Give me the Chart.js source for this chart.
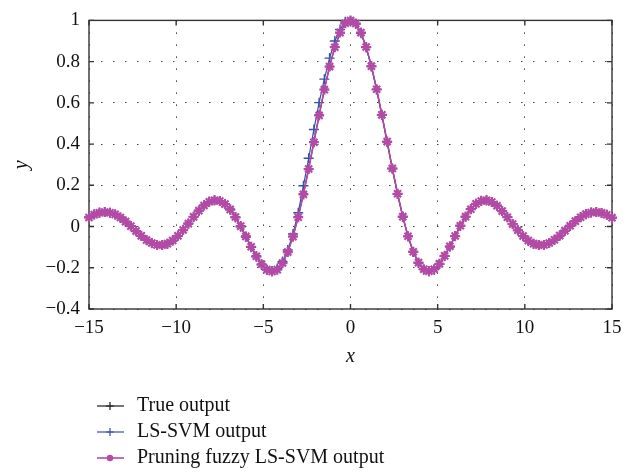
<!DOCTYPE html>
<html>
<head>
<meta charset="utf-8">
<script src="https://cdn.jsdelivr.net/npm/chart.js@4.4.1/dist/chart.umd.min.js"></script>
<style>
  html, body { margin: 0; padding: 0; background: #fff; }
  canvas { display: block; }
</style>
</head>
<body>
<canvas id="grafico" width="635" height="474"></canvas>
<script>
// Valores (x de -15 a 15)
const xs = [-15,-14.7,-14.4,-14.1,-13.8,-13.5,-13.2,-12.9,-12.6,-12.3,-12,-11.7,-11.4,-11.1,-10.8,-10.5,-10.2,-9.9,-9.6,-9.3,-9,-8.7,-8.4,-8.1,-7.8,-7.5,-7.2,-6.9,-6.6,-6.3,-6,-5.7,-5.4,-5.1,-4.8,-4.5,-4.2,-3.9,-3.6,-3.3,-3,-2.7,-2.4,-2.1,-1.8,-1.5,-1.2,-0.9,-0.6,-0.3,0,0.3,0.6,0.9,1.2,1.5,1.8,2.1,2.4,2.7,3,3.3,3.6,3.9,4.2,4.5,4.8,5.1,5.4,5.7,6,6.3,6.6,6.9,7.2,7.5,7.8,8.1,8.4,8.7,9,9.3,9.6,9.9,10.2,10.5,10.8,11.1,11.4,11.7,12,12.3,12.6,12.9,13.2,13.5,13.8,14.1,14.4,14.7,15];

const salidaReal = [0.043,0.058,0.067,0.071,0.068,0.060,0.045,0.025,0.003,-0.021,-0.045,-0.065,-0.081,-0.090,-0.091,-0.084,-0.069,-0.046,-0.018,0.013,0.046,0.076,0.102,0.120,0.128,0.125,0.110,0.084,0.047,0.003,-0.047,-0.097,-0.143,-0.182,-0.208,-0.217,-0.208,-0.176,-0.123,-0.048,0.047,0.158,0.281,0.411,0.541,0.665,0.777,0.870,0.941,0.985,1.000,0.985,0.941,0.870,0.777,0.665,0.541,0.411,0.281,0.158,0.047,-0.048,-0.123,-0.176,-0.208,-0.217,-0.208,-0.182,-0.143,-0.097,-0.047,0.003,0.047,0.084,0.110,0.125,0.128,0.120,0.102,0.076,0.046,0.013,-0.018,-0.046,-0.069,-0.084,-0.091,-0.090,-0.081,-0.065,-0.045,-0.021,0.003,0.025,0.045,0.060,0.068,0.071,0.067,0.058,0.043];

const salidaLSSVM = [0.045,0.060,0.068,0.071,0.067,0.058,0.043,0.023,0.001,-0.023,-0.046,-0.066,-0.081,-0.089,-0.090,-0.083,-0.067,-0.044,-0.016,0.015,0.048,0.078,0.104,0.121,0.128,0.124,0.108,0.081,0.044,-0.001,-0.051,-0.101,-0.147,-0.186,-0.210,-0.216,-0.204,-0.170,-0.114,-0.036,0.067,0.198,0.331,0.471,0.601,0.715,0.817,0.900,0.956,0.993,0.995,0.982,0.938,0.868,0.776,0.664,0.541,0.411,0.281,0.158,0.047,-0.048,-0.123,-0.177,-0.209,-0.218,-0.209,-0.183,-0.144,-0.098,-0.047,0.004,0.048,0.085,0.111,0.125,0.127,0.119,0.101,0.075,0.045,0.012,-0.019,-0.047,-0.069,-0.084,-0.090,-0.089,-0.080,-0.064,-0.044,-0.020,0.004,0.026,0.046,0.060,0.068,0.070,0.066,0.057,0.042];

const salidaPoda = [0.044,0.058,0.067,0.070,0.067,0.059,0.044,0.024,0.002,-0.022,-0.045,-0.065,-0.080,-0.089,-0.090,-0.083,-0.068,-0.045,-0.017,0.014,0.047,0.077,0.102,0.120,0.127,0.124,0.109,0.083,0.046,0.002,-0.048,-0.098,-0.144,-0.183,-0.209,-0.218,-0.209,-0.177,-0.124,-0.049,0.045,0.156,0.279,0.409,0.539,0.664,0.776,0.870,0.941,0.986,0.999,0.985,0.941,0.871,0.778,0.666,0.542,0.412,0.282,0.159,0.048,-0.047,-0.122,-0.175,-0.207,-0.216,-0.207,-0.181,-0.142,-0.096,-0.046,0.004,0.048,0.084,0.110,0.124,0.127,0.119,0.101,0.075,0.045,0.012,-0.018,-0.046,-0.068,-0.083,-0.090,-0.089,-0.080,-0.064,-0.044,-0.020,0.004,0.026,0.045,0.060,0.068,0.070,0.066,0.057,0.043];

const ticksX = [-15, -10, -5, 0, 5, 10, 15];
const ticksY = [-0.4, -0.2, 0, 0.2, 0.4, 0.6, 0.8, 1];

const leyenda = ['True output', 'LS-SVM output', 'Pruning fuzzy LS-SVM output'];

const FUENTE = '"Liberation Serif", "DejaVu Serif", serif';
const COL_REAL = '#1c1c1c';
const COL_LSSVM = '#3551ad';
const COL_PODA = '#b24aa6';

function puntos(ys) {
  return xs.map((x, i) => ({ x: x, y: ys[i] }));
}

function formatoNum(v) {
  const r = Math.round(v * 10) / 10;
  return String(r).replace('-', '\u2212');
}

// Marco, marcas interiores y leyenda
const marcoPlugin = {
  id: 'marco',
  beforeDatasetsDraw(chart) {
    const { ctx, chartArea: a, scales } = chart;
    ctx.save();
    ctx.strokeStyle = '#333';
    ctx.lineWidth = 1.4;
    ctx.strokeRect(a.left, a.top, a.right - a.left, a.bottom - a.top);
    ctx.beginPath();
    ticksX.forEach(t => {
      const px = scales.x.getPixelForValue(t);
      ctx.moveTo(px, a.bottom); ctx.lineTo(px, a.bottom - 5);
      ctx.moveTo(px, a.top); ctx.lineTo(px, a.top + 5);
    });
    ticksY.forEach(t => {
      const py = scales.y.getPixelForValue(t);
      ctx.moveTo(a.left, py); ctx.lineTo(a.left + 5, py);
      ctx.moveTo(a.right, py); ctx.lineTo(a.right - 5, py);
    });
    ctx.stroke();
    ctx.restore();
  },
  afterDraw(chart) {
    const ctx = chart.ctx;
    const colores = [COL_REAL, COL_LSSVM, COL_PODA];
    const filas = [406, 432, 458];
    ctx.save();
    ctx.font = '20px ' + FUENTE;
    ctx.textBaseline = 'middle';
    leyenda.forEach((txt, i) => {
      const y = filas[i];
      ctx.strokeStyle = colores[i];
      ctx.lineWidth = i === 2 ? 1.6 : 1.2;
      ctx.beginPath();
      ctx.moveTo(97, y); ctx.lineTo(124, y);
      ctx.stroke();
      ctx.beginPath();
      if (i === 2) {
        ctx.fillStyle = colores[i];
        ctx.arc(110, y, 3.2, 0, Math.PI * 2);
        ctx.fill();
      } else {
        ctx.moveTo(106, y); ctx.lineTo(114, y);
        ctx.moveTo(110, y - 4); ctx.lineTo(110, y + 4);
        ctx.stroke();
      }
      ctx.fillStyle = '#111';
      ctx.fillText(txt, 137, y);
    });
    ctx.restore();
  }
};

const grafico = new Chart(document.getElementById('grafico'), {
  type: 'scatter',
  data: {
    datasets: [
      {
        label: leyenda[0],
        data: puntos(salidaReal),
        showLine: true,
        borderColor: COL_REAL,
        backgroundColor: COL_REAL,
        borderWidth: 1.2,
        pointStyle: 'cross',
        pointRadius: 4.5,
        pointBorderWidth: 1.3,
        order: 2,
        clip: 6
      },
      {
        label: leyenda[1],
        data: puntos(salidaLSSVM),
        showLine: true,
        borderColor: COL_LSSVM,
        backgroundColor: COL_LSSVM,
        borderWidth: 1.2,
        pointStyle: 'cross',
        pointRadius: 5,
        pointBorderWidth: 1.4,
        order: 1,
        clip: 6
      },
      {
        label: leyenda[2],
        data: puntos(salidaPoda),
        showLine: true,
        borderColor: COL_PODA,
        backgroundColor: COL_PODA,
        borderWidth: 1.6,
        pointStyle: 'star',
        pointRadius: 5,
        pointBorderWidth: 2.2,
        order: 0,
        clip: 6
      }
    ]
  },
  options: {
    responsive: false,
    animation: false,
    layout: { padding: { left: 0, right: 23, top: 15, bottom: 105 } },
    plugins: {
      legend: { display: false },
      tooltip: { enabled: false }
    },
    scales: {
      x: {
        type: 'linear',
        min: -15,
        max: 15,
        afterFit: (s) => { s.height = 60; },
        afterBuildTicks: (s) => { s.ticks = ticksX.map(v => ({ value: v })); },
        ticks: {
          padding: 8,
          color: '#111',
          font: { family: FUENTE, size: 19 },
          maxRotation: 0,
          callback: (v) => formatoNum(v)
        },
        grid: { color: '#444', lineWidth: 1, drawTicks: false },
        border: { display: false, dash: [1.5, 10.5] },
        title: {
          display: true,
          text: 'x',
          color: '#111',
          font: { family: FUENTE, size: 20, style: 'italic' },
          padding: { top: 0, bottom: 0 }
        }
      },
      y: {
        type: 'linear',
        min: -0.4,
        max: 1,
        afterFit: (s) => { s.width = 89; },
        afterBuildTicks: (s) => { s.ticks = ticksY.map(v => ({ value: v })); },
        ticks: {
          padding: 9,
          color: '#111',
          font: { family: FUENTE, size: 19 },
          callback: (v) => formatoNum(v)
        },
        grid: { color: '#444', lineWidth: 1, drawTicks: false },
        border: { display: false, dash: [1.5, 10.5] },
        title: {
          display: true,
          text: 'y',
          color: '#111',
          font: { family: FUENTE, size: 20, style: 'italic' },
          padding: { top: 10, bottom: 0 }
        }
      }
    }
  },
  plugins: [marcoPlugin]
});
</script>
</body>
</html>
